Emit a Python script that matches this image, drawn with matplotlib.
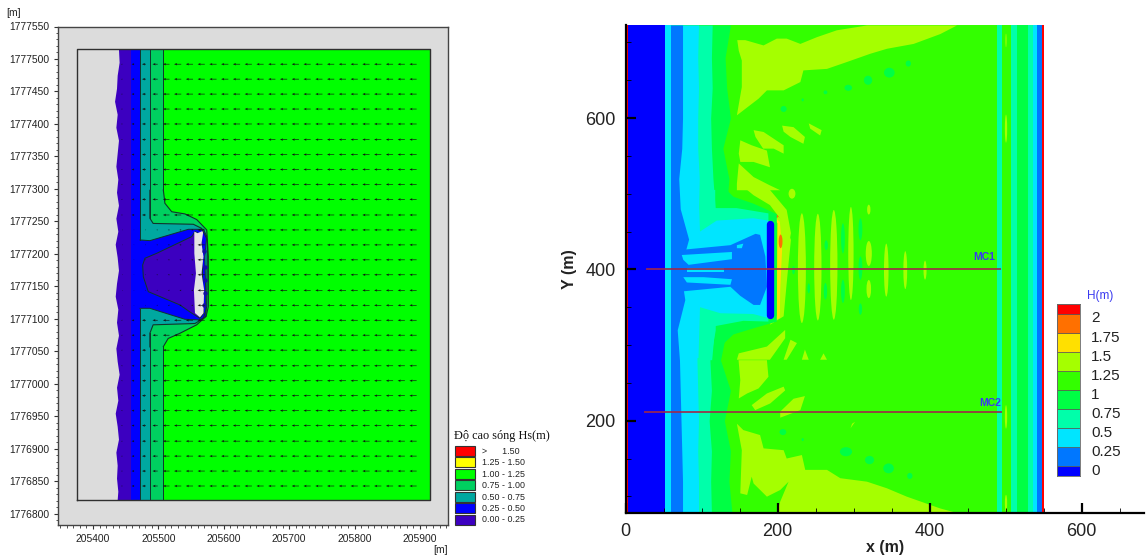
import numpy as np
from matplotlib import pyplot as plt
from matplotlib.patches import Ellipse, Rectangle

plt.rcParams['font.family'] = ['Liberation Sans', 'DejaVu Sans']

W, H = 1147, 556

# ---- left panel data (metres) ----
left_xticks = [205400, 205500, 205600, 205700, 205800, 205900]
left_yticks = [1776800 + 50 * i for i in range(16)]
left_colors = ['#ff0000', '#ffff00', '#00ff00', '#00d060', '#00a8a0', '#0000ff', '#3c00c0']
left_labels = ['>      1.50', '1.25 - 1.50', '1.00 - 1.25', '0.75 - 1.00', '0.50 - 0.75', '0.25 - 0.50', '0.00 - 0.25']

dom_x = [205375.5, 205915]
dom_y = [1776822, 1777515]
band_edges = [205458, 205472, 205487, 205507]

shore_y = [1777515, 1777495, 1777475, 1777455, 1777435, 1777415, 1777395, 1777375, 1777355, 1777335,
           1777315, 1777295, 1777275, 1777255, 1777235, 1777215, 1777195, 1777175, 1777155, 1777135,
           1777115, 1777095, 1777075, 1777055, 1777035, 1777015, 1776995, 1776975, 1776955, 1776935,
           1776915, 1776895, 1776875, 1776855, 1776835, 1776822]
shore_x = [205439, 205440, 205437, 205436, 205433, 205437, 205435, 205439, 205437, 205435,
           205438, 205436, 205439, 205435, 205438, 205434, 205437, 205439, 205436, 205434,
           205438, 205436, 205439, 205435, 205437, 205440, 205436, 205438, 205434, 205437,
           205439, 205435, 205437, 205436, 205438, 205437]

seagreen_x = [205487, 205507.6, 205510, 205520.4, 205540.7, 205558.6, 205574, 205576.4, 205576.4, 205573, 205558.6, 205533, 205515, 205507.6, 205487]
seagreen_y = [1777298.5, 1777298.5, 1777278, 1777265, 1777261.6, 1777253, 1777237, 1777196, 1777119, 1777104, 1777091, 1777078, 1777070, 1777057.4, 1777057.4]
teal_x = [205472, 205487, 205487, 205492, 205553.5, 205566, 205575, 205574, 205569, 205556, 205492, 205487, 205487, 205472]
teal_y = [1777298, 1777298, 1777255, 1777247, 1777245.7, 1777239.5, 1777221.6, 1777119, 1777101, 1777093, 1777091, 1777078, 1777057, 1777057]
blue_x = [205458, 205472, 205487, 205546, 205569, 205574, 205571, 205573, 205573, 205563.6, 205540.7, 205487, 205472, 205458]
blue_y = [1777221.6, 1777221.6, 1777220.5, 1777238, 1777238, 1777227, 1777196, 1777119, 1777104, 1777098.5, 1777099.5, 1777116.4, 1777116.4, 1777116.4]
purple_x = [205476, 205479.5, 205497.4, 205551, 205556, 205566, 205569, 205563.6, 205548, 205533, 205484.6, 205477]
purple_y = [1777183, 1777193.4, 1777201, 1777226.7, 1777234.4, 1777229, 1777109, 1777101, 1777111, 1777121.6, 1777142, 1777165]
rock_x = [205555, 205560, 205569, 205566, 205569, 205566, 205570, 205569, 205563.6, 205556, 205554.4, 205557.5, 205555]
rock_y = [1777234.4, 1777232, 1777236, 1777216.4, 1777196, 1777170, 1777144.6, 1777109, 1777102.6, 1777109, 1777144.6, 1777170, 1777201]
blob_x = [205570, 205572, 205571, 205572, 205570]
blob_y = [1777205, 1777180, 1777160, 1777140, 1777122]

arrow_cols = [205445, 205463, 205481, 205499, 205517, 205535, 205553, 205571, 205589, 205607, 205625, 205643, 205661,
              205679, 205697, 205715, 205733, 205751, 205769, 205787, 205805, 205823, 205841, 205859, 205877, 205895]
arrow_len = [2, 4, 6, 8, 10, 11, 11, 11, 11, 11, 11, 11, 11, 11, 11, 11, 11, 11, 11, 11, 11, 11, 11, 11, 11, 11]
arrow_rows = [1777492, 1777469, 1777446, 1777423, 1777400, 1777376, 1777353, 1777330, 1777307, 1777284,
              1777260, 1777237, 1777214, 1777191, 1777168, 1777144, 1777121, 1777098, 1777075, 1777052,
              1777028, 1777005, 1776982, 1776959, 1776936, 1776912, 1776889, 1776866, 1776843]

# ---- right panel data (metres) ----
right_ticks_x = [0, 200, 400, 600]
right_ticks_y = [200, 400, 600]
c_blue, c_dark, c_cyan, c_teal, c_green, c_base, c_lime, c_yellow, c_orange, c_red = (
    '#0000ff', '#0077ff', '#00e5ff', '#00ffaa', '#00ff44', '#33ff00', '#a5ff00', '#ffe000', '#ff7000', '#ff0000')
bar_colors = [c_blue, c_dark, c_cyan, c_teal, c_green, c_base, c_lime, c_yellow, c_orange, c_red]
bar_edges = [-0.08, 0.045, 0.295, 0.545, 0.795, 1.045, 1.295, 1.545, 1.795, 2.045, 2.17]
bar_ticks = [0, 0.25, 0.5, 0.75, 1, 1.25, 1.5, 1.75, 2]
bar_labels = ['0', '0.25', '0.5', '0.75', '1', '1.25', '1.5', '1.75', '2']

rows = [78, 120, 160, 200, 240, 280, 320, 360, 400, 440, 480, 520, 560, 600, 640, 680, 723]
edge_dark = [75, 75, 74, 73, 72, 71, 68, 78, 72, 83, 72, 70, 74, 75, 75, 75, 75]
edge_cyan = [96, 96, 95, 96, 95, 94, 95, 95, 95, 96, 96, 97, 95, 95, 96, 95, 96]
edge_teal = [113, 112, 113, 110, 113, 111, 118, 118, 118, 118, 118, 115, 113, 112, 114, 113, 114]
edge_green = [140, 136, 138, 130, 138, 125, 133, 133, 133, 133, 133, 136, 128, 138, 133, 131, 138]

right_band_x = [489, 495.5, 507, 515, 529.6, 536, 541.4, 547.6, 550]
right_band_c = [c_teal, c_base, c_teal, c_green, c_teal, c_cyan, c_dark, c_red]

lime_patches = [
    [(147, 703), (157.5, 703), (181.6, 696), (199, 705), (212, 705), (230, 698), (252, 707), (278, 716), (317.6, 722.4),
     (436, 722.4), (414, 711), (379, 698), (344, 691.6), (322, 685), (291, 674), (265, 665), (234, 663), (230, 647.6),
     (208, 636.6), (186, 636.6), (175, 625.6), (146.5, 603.6), (153, 641), (153, 676), (149, 689)],
    [(206, 590), (221, 588), (236, 575), (234, 566), (217, 575), (208, 582)],
    [(241, 593), (258, 584), (256, 577), (243, 586)],
    [(168.5, 584), (181.6, 581.6), (208, 564), (208, 553), (195, 559.6), (181, 559.6), (171, 575)],
    [(151, 570.6), (166, 564), (186, 557), (190, 535), (168.5, 542), (151, 542), (149, 553)],
    [(149, 540), (168.5, 522), (190, 511), (203.5, 504.6), (146.5, 504.6), (146.5, 513)],
    [(160, 505), (190, 505), (212, 478.6), (217.6, 448), (214.5, 430), (208, 461), (190, 485), (168.5, 498)],
    [(210, 320), (186, 298), (149, 289), (146.5, 280.6), (190, 280.6), (210, 309)],
    [(217, 307), (225.5, 302.6), (212, 280.6), (208, 280.6)],
    [(236, 294), (241, 280.6), (232, 280.6)],
    [(260.5, 289), (265, 280.6), (256, 280.6)],
    [(148.7, 280), (186, 280), (188, 258), (175, 242.6), (160, 236), (149, 229.4), (151, 253.6)],
    [(208, 245), (210, 240), (190.4, 222.8), (170.6, 214), (166, 220.6), (186, 236)],
    [(221, 229), (236, 232.5), (230, 214), (203.5, 204), (203.5, 212)],
    [(302, 198.6), (296, 190), (298, 196)],
    [(146.5, 196), (155, 187.6), (177, 181), (181.6, 163.4), (208, 161), (212, 150), (232, 154.6), (236.4, 135), (265, 135),
     (282.5, 124), (317.6, 119.4), (344, 110.6), (370, 99.6), (414, 84), (436, 78), (199, 78), (203.5, 93), (214.5, 119.4),
     (203.5, 108.4), (186, 99.6), (168.5, 117), (166, 126), (160, 101.8), (151, 104), (153, 161)],
]
# ripples behind the breakwater: x, y, width, height
lime_x = [232, 253, 274, 296.5, 320, 320, 320, 343, 368, 394, 219, 500.5, 500.5, 500.5, 500.5]
lime_y = [401.6, 403, 406, 421, 421, 374, 479, 399, 399, 399, 500, 702.6, 586, 205, 91]
lime_w = [10.5, 9.6, 9.6, 7, 8, 6, 4.4, 6, 5, 4, 9, 1.5, 3, 3, 3]
lime_h = [145, 141, 145, 123, 33, 24, 13, 70, 50, 25, 13, 18, 37, 31, 22]
dark_x = [264, 263, 286, 286, 309, 309, 309, 241, 221, 208, 233, 263, 293, 319, 347, 372, 207, 233, 290, 321, 346, 374]
dark_y = [432, 371, 441, 371, 453, 401.6, 347.5, 375, 399, 612, 624, 634, 640, 650, 660, 672, 185, 175, 159, 148, 137, 127]
dark_w = [4.4, 4.4, 5, 5, 5, 5, 4.4, 3.5, 3.5, 8, 3, 5, 10, 11, 14, 7, 9, 3, 16, 12, 14, 7]
dark_h = [13, 22, 40, 31, 29, 31, 15, 13, 11, 8, 4, 5, 8, 12, 13, 8, 8, 4, 12, 11, 13, 8]

green_bulge = [(133, 505), (142, 496), (168, 487), (186, 479), (199, 473), (199, 331), (168, 322), (142, 314), (125, 298), (125, 280), (100, 280), (100, 505)]
teal_bulge = [(118, 505), (118, 481), (146, 481), (188, 474), (188, 331), (155, 332), (118, 325), (114, 280), (90, 280), (90, 505)]
cyan_bulge = [(96, 505), (98, 450), (120, 464.5), (168, 467.6), (188, 464.5), (188, 335.6), (168, 341), (125, 342), (98, 350), (96, 283), (70, 283), (70, 505)]
dark_main = [(66, 426), (76, 426), (138, 432), (171, 447), (177, 445.6), (184, 417), (186, 377), (177, 353), (168.5, 353), (151, 365), (138, 377), (76, 371), (66, 371)]
fingers = [
    [(74, 419), (140, 423), (140, 413.5), (83, 406), (76, 412.6)],
    [(76, 389.7), (102.6, 389.7), (140, 387), (138, 379.6), (80.7, 382.7)],
    [(81, 401.6), (129, 401.6), (129, 396.8), (81, 396.8)],
    [(146.5, 432), (155, 434), (153, 428), (146.5, 428)],
]
ring_lime = [(190.4, 476), (208, 465), (217.6, 439), (214.5, 408), (210, 360), (208, 338), (190.4, 327), (190.4, 331), (199, 338), (200, 461), (190.4, 470)]
ring_yellow = [(190, 474), (203, 463), (206, 426), (203.5, 373), (203, 335.6), (190, 329), (190, 332), (199, 339), (200, 461), (190, 471)]
orange_x = [204, 196]
orange_y = [437, 470]
orange_w = [5, 10]
orange_h = [18, 5]

mc_x = [[28, 493], [26, 494]]
mc_y = [400, 211]
mc_names = ['MC1', 'MC2']
mc_label_x = [457, 465]
mc_label_y = [417, 223]


def pxAxes(fig, x0, y0, x1, y1):
    return fig.add_axes([x0 / W, 1 - y1 / H, (x1 - x0) / W, (y1 - y0) / H])


def poly(ax, pts, color, **kw):
    ax.fill([p[0] for p in pts], [p[1] for p in pts], color=color, lw=0, **kw)


def ellipses(ax, xs, ys, ws, hs, color):
    for x, y, w, h in zip(xs, ys, ws, hs):
        ax.add_patch(Ellipse((x, y), w, h, color=color, lw=0))


def leftPanel(fig):
    ax = pxAxes(fig, 58, 26.5, 448, 525)
    line = '#10352c'
    ax.set_facecolor('#dcdcdc')
    ax.fill_between(dom_x, dom_y[0], dom_y[1], color=left_colors[2], lw=0)
    x0 = dom_x[0]
    ax.fill_betweenx(dom_y, x0, band_edges[3], color=left_colors[3], lw=0)
    ax.fill(seagreen_x, seagreen_y, color=left_colors[3], lw=0)
    ax.plot(seagreen_x[1:-1], seagreen_y[1:-1], color=line, lw=0.8)
    ax.fill_betweenx(dom_y, x0, band_edges[2], color=left_colors[4], lw=0)
    ax.fill(teal_x, teal_y, color=left_colors[4], lw=0)
    ax.plot(teal_x[1:-1], teal_y[1:-1], color=line, lw=0.8)
    ax.fill_betweenx(dom_y, x0, band_edges[1], color=left_colors[5], lw=0)
    ax.fill(blue_x, blue_y, color=left_colors[5], lw=0)
    ax.plot(blue_x[1:-1], blue_y[1:-1], color=line, lw=0.7)
    ax.fill_betweenx(dom_y, x0, band_edges[0], color=left_colors[6], lw=0)
    ax.fill(purple_x, purple_y, color=left_colors[6], ec=line, lw=0.7)
    ax.fill_betweenx(shore_y, x0, shore_x, color='#dcdcdc', lw=0)
    ax.fill(rock_x, rock_y, color='#e4e4e4', lw=0)
    ax.scatter(blob_x, blob_y, s=10, color='#1010a0', lw=0, zorder=3)
    ax.plot([band_edges[1]] * 2, [1777222, dom_y[1]], color=line, lw=0.7)
    ax.plot([band_edges[1]] * 2, [dom_y[0], 1777116], color=line, lw=0.7)
    for x, top, bot in zip(band_edges[2:], [1777255, 1777298], [1777078, 1777057]):
        ax.plot([x, x], [top, dom_y[1]], color=line, lw=0.7)
        ax.plot([x, x], [dom_y[0], bot], color=line, lw=0.7)
    ax.plot([dom_x[0], dom_x[1], dom_x[1], dom_x[0], dom_x[0]],
            [dom_y[0], dom_y[0], dom_y[1], dom_y[1], dom_y[0]], color='#303030', lw=1.0, zorder=4)

    # current arrows, short in the lee of the breakwater
    X, Y = np.meshgrid(arrow_cols, arrow_rows)
    U = -np.tile(arrow_len, (len(arrow_rows), 1)).astype(float)
    lee = (X < 205560) & (Y > 1777100) & (Y < 1777240)
    U[lee] = U[lee] * 0.25
    ax.quiver(X, Y, U, np.zeros_like(U), angles='xy', scale_units='xy', scale=1, color='#111111',
              width=0.0016, headwidth=4, headlength=5, headaxislength=4, zorder=5)

    ax.set_xlim(205346.5, 205943)
    ax.set_ylim(1776783, 1777550)
    ax.set_xticks(left_xticks)
    ax.set_xticklabels([str(v) for v in left_xticks], fontsize=7.4, color='#222222')
    ax.set_yticks(left_yticks)
    ax.set_yticklabels([str(v) for v in left_yticks], fontsize=7.4, color='#222222')
    ax.set_xticks(np.arange(205350, 205950, 10), minor=True)
    ax.set_yticks(np.arange(1776790, 1777550, 10), minor=True)
    ax.tick_params(which='major', length=3.2, width=0.8, pad=3, color='#333333')
    ax.tick_params(which='minor', length=1.8, width=0.6, color='#333333')
    for s in ax.spines.values():
        s.set_color('#444444')
        s.set_linewidth(1.0)
    fig.text(6 / W, 1 - 13 / H, '[m]', fontsize=7.4, color='#222222', va='center')
    fig.text(433 / W, 1 - 550 / H, '[m]', fontsize=7.4, color='#222222', va='center')

    # legend
    fig.text(454 / W, 1 - 436 / H, 'Độ cao sóng Hs(m)', fontsize=8.8, va='center', color='#111111',
             family=['Liberation Serif', 'DejaVu Serif'])
    for i, (c, t) in enumerate(zip(left_colors, left_labels)):
        top = 446 + i * 11.45
        fig.add_artist(Rectangle((454.5 / W, 1 - (top + 9.8) / H), 20 / W, 9.8 / H, transform=fig.transFigure,
                                 fc=c, ec='#333333', lw=0.8))
        fig.text(482.5 / W, 1 - (top + 5.2) / H, t, fontsize=6.4, va='center', color='#222222')


def rightPanel(fig):
    ax = pxAxes(fig, 625.5, 25, 1144, 513)
    ax.fill_between([0, 550], 78, 723, color=c_base, lw=0)
    for pts in lime_patches:
        poly(ax, pts, c_lime)
    ellipses(ax, lime_x, lime_y, lime_w, lime_h, c_lime)
    ellipses(ax, dark_x, dark_y, dark_w, dark_h, c_green)
    poly(ax, ring_lime, c_lime)
    poly(ax, ring_yellow, c_yellow)
    ellipses(ax, orange_x, orange_y, orange_w, orange_h, c_orange)

    ax.fill_betweenx(rows, 0, edge_green, color=c_green, lw=0)
    poly(ax, green_bulge, c_green)
    ax.fill_betweenx(rows, 0, edge_teal, color=c_teal, lw=0)
    poly(ax, teal_bulge, c_teal)
    ax.fill_betweenx(rows, 0, edge_cyan, color=c_cyan, lw=0)
    poly(ax, cyan_bulge, c_cyan)
    ax.fill_betweenx(rows, 0, edge_dark, color=c_dark, lw=0)
    poly(ax, dark_main, c_dark)
    for pts in fingers:
        poly(ax, pts, c_cyan)
    ax.fill_between([0, 60], 78, 723, color=c_cyan, lw=0)
    ax.fill_between([0, 52], 78, 723, color=c_blue, lw=0)
    ax.fill_between([0, 3], 78, 723, color=c_red, lw=0)
    for i, c in enumerate(right_band_c):
        ax.fill_between(right_band_x[i:i + 2], 78, 723, color=c, lw=0)
    ellipses(ax, lime_x[-4:], lime_y[-4:], lime_w[-4:], lime_h[-4:], c_lime)

    ax.plot([190, 190], [340, 460], color=c_blue, lw=5.3, solid_capstyle='round')
    for xs, y, name, lx, ly in zip(mc_x, mc_y, mc_names, mc_label_x, mc_label_y):
        ax.plot(xs, [y, y], color='#a02848', lw=1.4, alpha=0.85)
        ax.text(lx, ly, name, color='#3a3af0', fontsize=7.5, fontweight='bold', va='center')

    ax.set_xlim(0, 682)
    ax.set_ylim(78, 723)
    ax.spines['top'].set_visible(False)
    ax.spines['right'].set_visible(False)
    ax.spines['left'].set_linewidth(1.6)
    ax.spines['bottom'].set_linewidth(1.6)
    ax.set_xticks(right_ticks_x)
    ax.set_yticks(right_ticks_y)
    ax.set_xticks(np.arange(50, 682, 50), minor=True)
    ax.set_yticks(np.arange(100, 723, 50), minor=True)
    ax.tick_params(which='major', direction='in', length=7, width=1.6, labelsize=13, pad=7, labelcolor='#222222')
    ax.tick_params(which='minor', direction='in', length=3.5, width=0.6)
    ax.set_xlabel('x (m)', fontsize=11.5, fontweight='bold', labelpad=0, color='#222222')
    ax.set_ylabel('Y (m)', fontsize=11.5, fontweight='bold', labelpad=6, color='#222222')

    # colour bar
    cb = pxAxes(fig, 1056.7, 304, 1080, 476)
    for i, c in enumerate(bar_colors):
        cb.bar(0, bar_edges[i + 1] - bar_edges[i], bottom=bar_edges[i], width=1, color=c, ec='#555555', lw=0.5)
    cb.set_xlim(-0.5, 0.5)
    cb.set_ylim(bar_edges[0], bar_edges[-1])
    cb.set_xticks([])
    cb.yaxis.tick_right()
    cb.set_yticks(bar_ticks)
    cb.set_yticklabels(bar_labels, fontsize=11, color='#222222')
    cb.tick_params(length=0, pad=8)
    for s in cb.spines.values():
        s.set_color('#666666')
        s.set_linewidth(0.6)
    fig.text(1100 / W, 1 - 296 / H, 'H(m)', fontsize=8.5, color='#3a3af0', ha='center', va='center')


def main():
    fig = plt.figure(figsize=(W / 100, H / 100), dpi=100)
    leftPanel(fig)
    rightPanel(fig)
    fig.savefig('out.png', dpi=100)


main()
